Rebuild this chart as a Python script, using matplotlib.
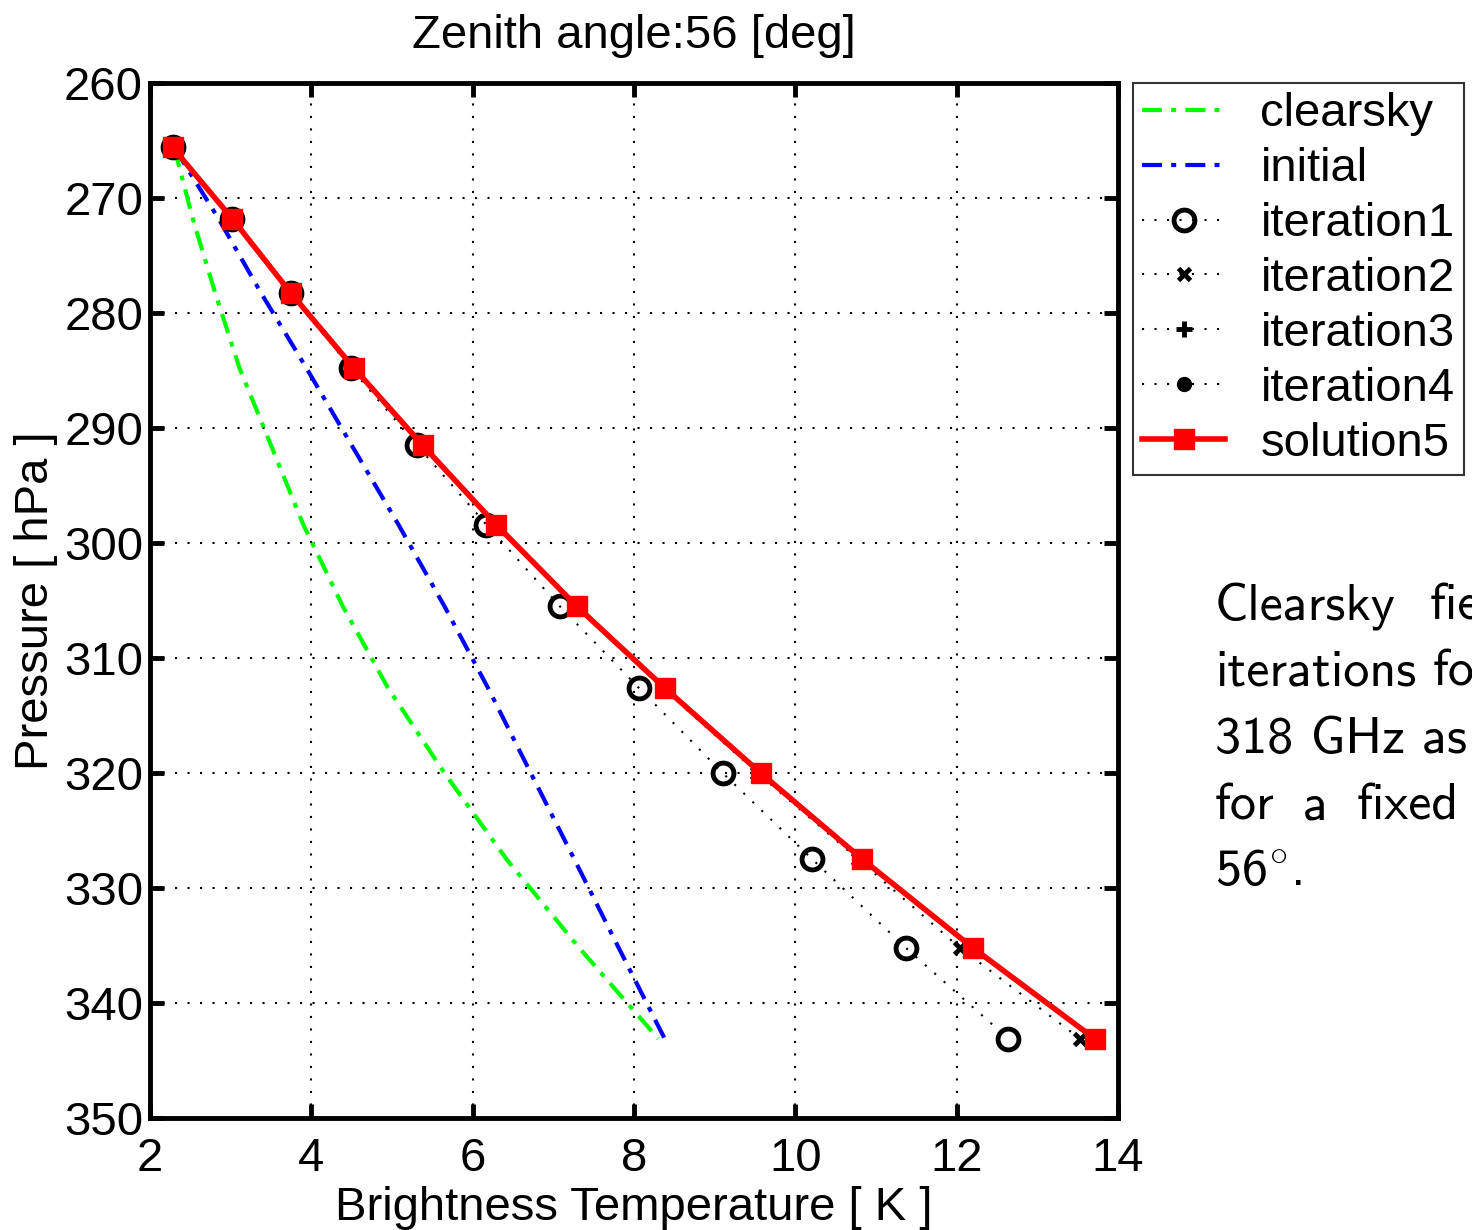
import numpy as np
import matplotlib.pyplot as plt

# pressure levels [hPa]
pressure = [265.6, 271.8, 278.3, 284.8, 291.5, 298.4, 305.5, 312.6, 320.0, 327.5, 335.2, 343.1]

# brightness temperatures [K]
clearsky = [2.30, 2.53, 2.81, 3.11, 3.50, 3.90, 4.39, 4.95, 5.65, 6.42, 7.32, 8.30]
initial = [2.30, 2.85, 3.38, 3.94, 4.50, 5.08, 5.65, 6.19, 6.72, 7.26, 7.81, 8.38]
iteration1 = [2.28, 3.02, 3.75, 4.49, 5.31, 6.17, 7.08, 8.06, 9.10, 10.21, 11.37, 12.64]
iteration2 = [2.28, 3.02, 3.75, 4.52, 5.37, 6.27, 7.27, 8.35, 9.53, 10.78, 12.04, 13.53]
iteration3 = [2.28, 3.02, 3.75, 4.53, 5.38, 6.29, 7.29, 8.38, 9.56, 10.82, 12.18, 13.69]
iteration4 = [2.28, 3.02, 3.75, 4.53, 5.38, 6.29, 7.29, 8.38, 9.57, 10.83, 12.20, 13.71]
solution5 = [2.28, 3.02, 3.75, 4.53, 5.38, 6.29, 7.29, 8.38, 9.57, 10.83, 12.20, 13.71]

xticks = np.arange(2, 15, 2)
yticks = np.arange(260, 351, 10)

plt.rcParams['font.family'] = ['Liberation Sans', 'DejaVu Sans']
plt.rcParams['mathtext.fontset'] = 'cm'

W, H = 1472, 1230
fig = plt.figure(figsize=(W / 100, H / 100), dpi=100)
ax = fig.add_axes([150 / W, 1 - 1118 / H, (1118 - 150) / W, (1118 - 83) / H])

dashdot = (0, (4.8, 2.2, 1.2, 2.2))
dots = (0, (1, 5))

ax.plot(clearsky, pressure, color=(0, 1, 0), ls=dashdot, lw=3, label='clearsky')
ax.plot(initial, pressure, color=(0, 0, 1), ls=dashdot, lw=3, label='initial')
ax.plot(iteration1, pressure, color='k', ls=dots, lw=1.5, marker='o', ms=15,
        mfc='none', mew=3.5, label='iteration1')
ax.plot(iteration2, pressure, color='k', ls=dots, lw=1.5, marker='x', ms=9,
        mew=3.5, label='iteration2')
ax.plot(iteration3, pressure, color='k', ls=dots, lw=1.5, marker='+', ms=11,
        mew=3.5, label='iteration3')
ax.plot(iteration4, pressure, color='k', ls=dots, lw=1.5, marker='o', ms=10,
        label='iteration4')
ax.plot(solution5, pressure, color='r', ls='-', lw=4, marker='s', ms=15,
        mfc='r', mec='r', label='solution5')

ax.set_xlim(2, 14)
ax.set_ylim(350, 260)
ax.set_xticks(xticks)
ax.set_yticks(yticks)
ax.grid(True, ls=dots, color='k', lw=1.5)
ax.tick_params(direction='in', length=10, width=3.5, labelsize=34,
               top=True, right=True)
ax.tick_params(axis='x', pad=14)
ax.tick_params(axis='y', pad=5)
for s in ax.spines.values():
    s.set_linewidth(3.5)

ax.set_xlabel('Brightness Temperature [ K ]', fontsize=34, labelpad=3)
ax.set_ylabel('Pressure [ hPa ]', fontsize=34, labelpad=4)
ax.set_title('Zenith angle:56 [deg]', fontsize=34, pad=25)

leg = fig.legend(loc='upper left', bbox_to_anchor=(1133 / W, 1 - 83 / H),
                 borderaxespad=0, fontsize=34, frameon=True, fancybox=False,
                 edgecolor='k', handlelength=1.75, labelspacing=0.23,
                 borderpad=0.2, handletextpad=0.75)
leg.get_frame().set_linewidth(1.5)

# side caption, justified word by word (clipped by the figure edge)
cap = {'family': ['cmss10', 'DejaVu Sans'], 'fontsize': 37.5}
words = [
    (1215, 620, 'Clearsky'), (1430, 620, 'field'),
    (1215, 685, 'iterations'), (1433, 685, 'for'),
    (1215, 753, '318 GHz as'),
    (1215, 820, 'for'), (1303, 820, 'a'), (1357, 820, 'fixed'),
    (1215, 886, r'56$^{\circ}$.'),
]
for x, y, t in words:
    fig.text(x / W, 1 - y / H, t, ha='left', va='baseline', **cap)

fig.savefig('out.png', dpi=100)
